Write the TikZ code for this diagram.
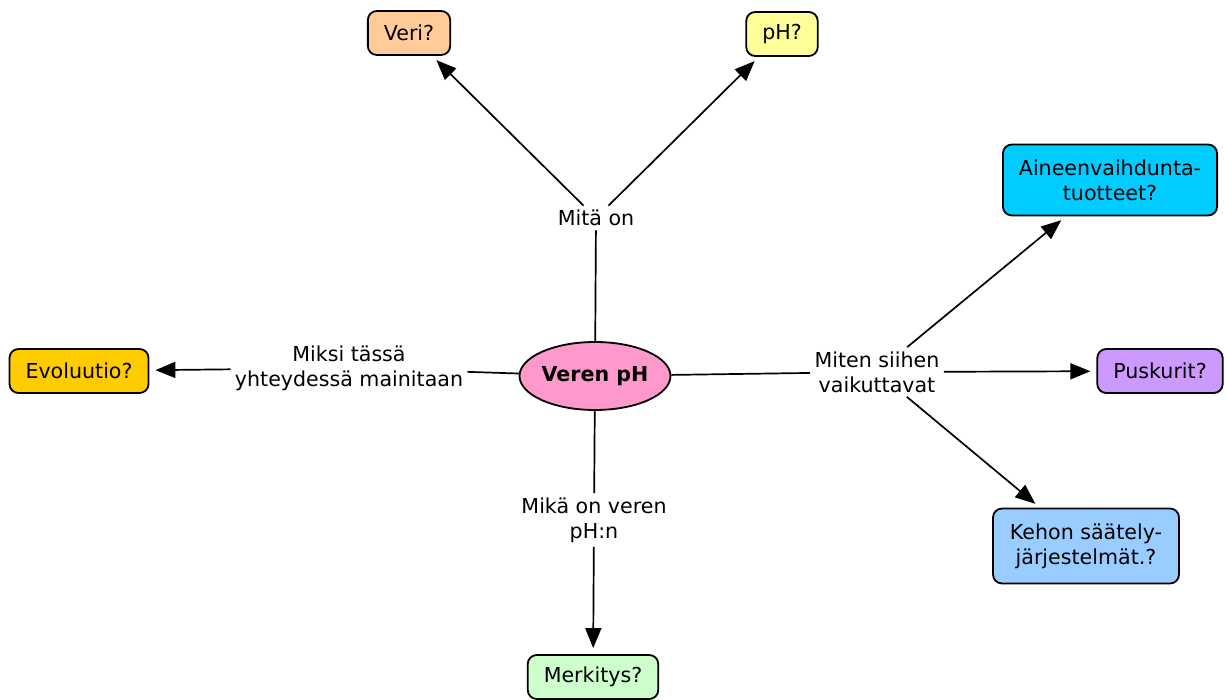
\documentclass[tikz,border=0pt]{standalone}
\usepackage{fontspec}
\setmainfont{DejaVu Sans}
\usetikzlibrary{positioning, shapes, arrows.meta}
\definecolor{pinkc}{HTML}{FF99CC}
\definecolor{peach}{HTML}{FFCC99}
\definecolor{lyellow}{HTML}{FFFF99}
\definecolor{cyanc}{HTML}{00CCFF}
\definecolor{lilac}{HTML}{CC99FF}
\definecolor{lblue}{HTML}{99CCFF}
\definecolor{gold}{HTML}{FFCC00}
\definecolor{lgreen}{HTML}{CCFFCC}

\begin{document}
\begin{tikzpicture}[x=0.5pt, y=-0.5pt, font=\fontsize{10.3}{12.5}\selectfont,
	concept/.style={draw, rounded corners=4.5pt, line width=0.9pt, inner xsep=8pt, inner ysep=6pt, minimum height=22pt, align=center},
	linkword/.style={inner sep=2pt, align=center},
	l_2/.style={line width=0.85pt},
	arr/.style={l_2, -{Triangle[length=10pt,width=8pt]}, shorten >=3pt}]
	\useasboundingbox (0,0) rectangle (1227,700);
	% main concept
	\node[ellipse, draw, line width=0.9pt, fill=pinkc, inner xsep=0pt, minimum width=73.5pt, minimum height=34pt, font=\fontsize{10.3}{12.5}\selectfont\bfseries] (veren) at (595,376) {Veren pH};
	% concepts
	\node[concept, fill=peach] (veri) at (409,33) {Veri?};
	\node[concept, fill=lyellow] (ph) at (782,34) {pH?};
	\node[concept, fill=cyanc, minimum width=106pt, inner ysep=7.5pt] (aine) at (1110,180) {Aineenvaihdunta-\\tuotteet?};
	\node[concept, fill=lilac] (pusk) at (1160,371) {Puskurit?};
	\node[concept, fill=lblue, minimum width=93pt, inner ysep=7.5pt] (kehon) at (1086,546) {Kehon säätely-\\järjestelmät.?};
	\node[concept, fill=gold] (evo) at (79,371) {Evoluutio?};
	\node[concept, fill=lgreen] (merk) at (593,677) {Merkitys?};
	% linking words
	\node[linkword] (mita) at (596,218) {Mitä on};
	\node[linkword] (miksi) at (349,368) {Miksi tässä\\yhteydessä mainitaan};
	\node[linkword] (miten) at (877,372) {Miten siihen\\vaikuttavat};
	\node[linkword] (mika) at (594,520) {Mikä on veren\\pH:n};
	% connections
	\draw[l_2] (veren) -- (mita);
	\draw[arr] (mita) -- (veri);
	\draw[arr] (mita) -- (ph);
	\draw[l_2] (veren) -- (miksi);
	\draw[arr] (miksi) -- (evo);
	\draw[l_2] (veren) -- (miten);
	\draw[arr] (miten) -- (aine);
	\draw[arr] (miten) -- (pusk);
	\draw[arr] (miten) -- (kehon);
	\draw[l_2] (veren) -- (mika);
	\draw[arr] (mika) -- (merk);
\end{tikzpicture}
\end{document}
